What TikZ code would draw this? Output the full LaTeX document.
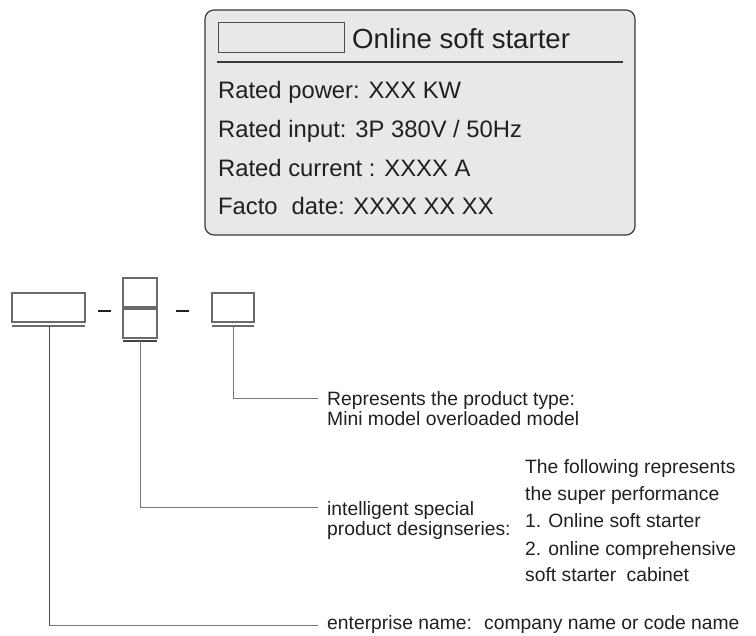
\documentclass[tikz,border=0pt]{standalone}
\usepackage{fontspec}
\setmainfont{Liberation Sans}
\definecolor{ink}{HTML}{231F20}
\definecolor{frame}{HTML}{3A3A3A}
\definecolor{panel}{HTML}{E8E8E8}
\definecolor{conn}{HTML}{777777}
\definecolor{boxline}{HTML}{6A6A6A}
\tikzset{
  lbl/.style={anchor=base west, inner sep=0pt, text=ink, font=\fontsize{19.3}{23}\selectfont},
  plate/.style={anchor=base west, inner sep=0pt, text=ink, font=\fontsize{23.8}{28}\selectfont},
  codebox/.style={draw=boxline, line width=1.3pt},
  uline/.style={draw=boxline, line width=1.3pt},
  conn/.style={draw=conn, line width=1pt},
  dashmark/.style={draw=ink, line width=1.8pt}
}
\begin{document}
\begin{tikzpicture}[x=1pt,y=-1pt]
\useasboundingbox (0,0) rectangle (756,636);
% nameplate
\draw[frame, fill=panel, line width=1.2pt, rounded corners=9pt] (205,10) rectangle (635,235);
\draw[draw=frame!90, line width=1pt] (218,23) rectangle (344,53);
\node[anchor=base west, inner sep=0pt, text=ink, font=\fontsize{27.6}{32}\selectfont] (title) at (352,49) {Online soft starter};
\draw[frame, line width=1.2pt] (217,62) -- (623,62);
\node[plate] (p1) at (218,99) {Rated power: XXX KW};
\node[plate] (p2) at (218,138) {Rated input: 3P 380V / 50Hz};
\node[plate] (p3) at (218,177) {Rated current : XXXX A};
\node[plate] (p4) at (218,215) {Facto\hspace{14pt}date: XXXX XX XX};
% code boxes
\draw[codebox] (12,293) rectangle (85,322);
\draw[uline] (12,326) -- (85,326);
\coordinate (u1) at (49,326);
\draw[dashmark] (98,311) -- (111,311);
\draw[codebox] (123,278) rectangle (157,307);
\draw[codebox] (123,309) rectangle (157,338);
\draw[draw=ink!85, line width=1.3pt] (123,341) -- (157,341);
\coordinate (u2) at (140,341);
\draw[dashmark] (176,311) -- (189,311);
\draw[codebox] (212,293) rectangle (254,322);
\draw[uline] (212,326) -- (254,326);
\coordinate (u3) at (233,326);
% labels
\node[lbl] (t3a) at (327,406) {Represents the product type:};
\node[lbl] (t3b) at (327,426) {Mini model overloaded model};
\node[lbl] (t2a) at (327,516) {intelligent special};
\node[lbl] (t2b) at (327,536) {product designseries:};
\node[lbl] (r1) at (525,474) {The following represents};
\node[lbl] (r2) at (525,501) {the super performance};
\node[lbl] (r3) at (525,528) {1. Online soft starter};
\node[lbl] (r4) at (525,555) {2. online comprehensive};
\node[lbl] (r5) at (525,582) {soft starter\hspace{5pt} cabinet};
\node[lbl] (t1) at (327,630) {enterprise name:\hspace{5pt} company name or code name};
% connectors
\coordinate (e3) at (318,399);
\coordinate (e2) at (318,508);
\coordinate (e1) at (318,625);
\draw[conn] (u3) |- (e3);
\draw[conn] (u2) |- (e2);
\draw[draw=ink!80, line width=1pt] (u1) -- (u1 |- e1);
\draw[conn] (u1 |- e1) -- (e1);
\end{tikzpicture}
\end{document}
